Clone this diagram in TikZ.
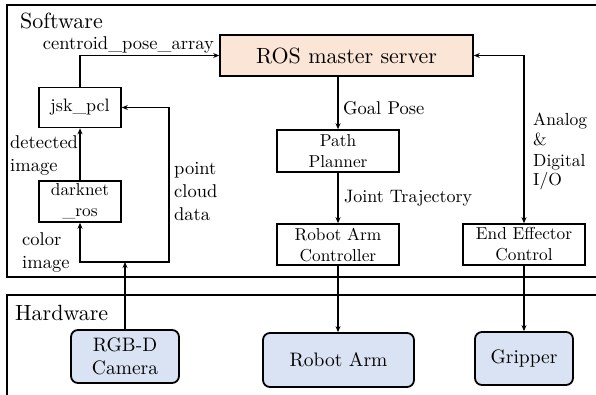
\documentclass[tikz,border=0pt]{standalone}
\usepackage{fontspec}
\setmainfont{lmroman10-regular.otf}
\usepackage{tikz}
\usetikzlibrary{positioning,calc,arrows.meta}
\definecolor{rospeach}{HTML}{FBE5D6}
\definecolor{hwblue}{HTML}{DAE3F3}

\begin{document}
\begin{tikzpicture}[x=1pt,y=-1pt,
	swbox/.style={draw, line width=1.6pt, align=center, inner sep=2pt, font=\fontsize{17.3}{21}\selectfont},
	hwbox/.style={draw, line width=1.8pt, rounded corners=7pt, fill=hwblue, align=center, font=\fontsize{19.5}{23}\selectfont},
	lbl/.style={inner sep=0pt, align=left, font=\fontsize{18.5}{23}\selectfont},
	flow/.style={line width=1.1pt, -{Stealth[length=6pt,width=5pt]}}]
				\useasboundingbox (0,0) rectangle (596,395);
				% software and hardware frames
				\draw[line width=1.3pt] (7,5) rectangle (620,277);
				\draw[line width=1.3pt] (7,295) rectangle (620,420);
				\node[lbl, anchor=base west, font=\fontsize{22}{26}\selectfont] (swtitle) at (20,29) {Software};
				\node[lbl, anchor=base west, font=\fontsize{22}{26}\selectfont] (hwtitle) at (15,320) {Hardware};
				% blocks
				\node[swbox, fill=rospeach, minimum width=253pt, minimum height=41pt, font=\fontsize{22}{26}\selectfont] (ros) at (346.5,55.5) {ROS master server};
				\node[swbox, minimum width=82pt, minimum height=40pt, font=\fontsize{18}{21}\selectfont] (jsk) at (80,107.5) {jsk\_pcl};
				\node[swbox, minimum width=82pt, minimum height=41pt] (dark) at (80,201.5) {darknet\\\_ros};
				\node[swbox, minimum width=122pt, minimum height=42pt] (path) at (338,151) {Path\\Planner};
				\node[swbox, minimum width=122pt, minimum height=41pt] (ctrl) at (338,244.5) {Robot Arm\\Controller};
				\node[swbox, minimum width=122pt, minimum height=41pt] (eec) at (524,244.5) {End Effector\\Control};
				\node[hwbox, minimum width=108pt, minimum height=53pt] (cam) at (125,356.5) {RGB-D\\Camera};
				\node[hwbox, minimum width=151pt, minimum height=54pt] (arm) at (338.5,360) {Robot Arm};
				\node[hwbox, minimum width=98pt, minimum height=53pt] (grip) at (524,358.5) {Gripper};
				% labels (base = last line)
				\node[lbl, anchor=base east] (centroid) at (214,50) {centroid\_pose\_array};
				\node[lbl, anchor=base west] (detected) at (10,172) {detected\\image};
				\node[lbl, anchor=base west] (color) at (22,268) {color\\image};
				\node[lbl, anchor=base west] (cloud) at (174,221) {point\\cloud\\data};
				\node[lbl, anchor=base west] (goal) at (343,115) {Goal Pose};
				\node[lbl, anchor=base west, font=\fontsize{18}{21}\selectfont] (joint) at (344,203) {Joint Trajectory};
				\node[lbl, anchor=base west, font=\fontsize{17.5}{20}\selectfont] (analog) at (533,186) {Analog\\\&\\Digital\\I/O};
				% connectors
				\coordinate (split) at (125,262);
				\coordinate (pcl) at (169,262);
				\draw[flow] (jsk.north) |- (ros.west);
				\draw[flow] (dark.north) -- (jsk.south);
				\draw[flow] (cam.north) -- (split);
				\draw[flow] (split) -| (dark.south);
				\draw[flow] (split) -- (pcl) |- (jsk.east);
				\draw[flow] (path.north |- ros.south) -- (path.north);
				\draw[flow] (path.south) -- (ctrl.north);
				\draw[flow] (ctrl.south) -- (ctrl.south |- arm.north);
				\draw[flow] (eec.south) -- (grip.north);
				\draw[flow, {Stealth[length=6pt,width=5pt]}-{Stealth[length=6pt,width=5pt]}] (ros.east) -| (eec.north);
\end{tikzpicture}
\end{document}
